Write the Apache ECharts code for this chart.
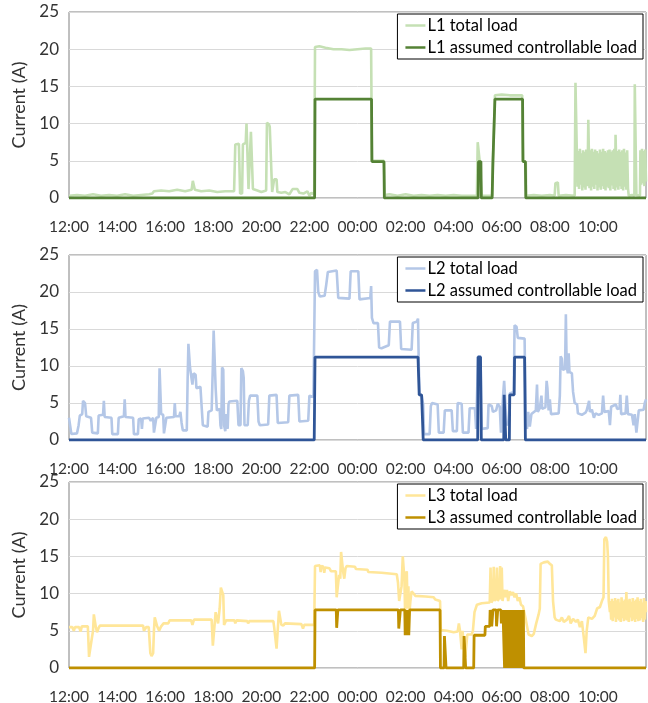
<!DOCTYPE html>
<html>
<head>
<meta charset="utf-8">
<script src="https://cdn.jsdelivr.net/npm/echarts@6/dist/echarts.min.js"></script>
<style>
  html, body { margin: 0; padding: 0; background: #fff; }
  #chart { width: 648px; height: 703px; }
</style>
</head>
<body>
<div id="chart"></div>
<script>
// time axis: minutes after 12:00, one label every 2 hours
const timeLabels = ['12:00', '14:00', '16:00', '18:00', '20:00', '22:00',
  '00:00', '02:00', '04:00', '06:00', '08:00', '10:00'];

const seriesNames = [
  ['L1 total load', 'L1 assumed controllable load'],
  ['L2 total load', 'L2 assumed controllable load'],
  ['L3 total load', 'L3 assumed controllable load']
];

// [minute, current A]
const l1Total = [[0,0.3],[20,0.4],[40,0.3],[60,0.5],[80,0.3],[100,0.4],[120,0.3],[140,0.5],[160,0.3],[180,0.4],[200,0.5],[208,0.6],[212,0.9],[230,1.0],[250,0.9],[270,1.1],[290,0.9],[306,1.1],[309,2.3],[312,2.2],[314,1.1],[330,0.9],[350,1.0],[370,0.8],[390,0.9],[412,0.9],[415,7.2],[424,7.3],[427,0.6],[432,0.6],[434,7.2],[441,7.4],[443,10.0],[446,10.0],[448,1.2],[452,1.0],[454,8.9],[457,8.9],[459,1.2],[470,1.0],[480,0.8],[492,1.0],[494,10.1],[499,9.9],[501,9.6],[505,9.6],[507,0.8],[511,0.8],[512,2.5],[518,2.5],[520,0.8],[530,0.7],[540,0.8],[550,0.5],[558,1.2],[570,1.2],[575,0.7],[585,0.6],[595,0.9],[600,0.3],[605,0.7],[612,0.5],[614,20.3],[625,20.4],[640,20.2],[660,20.0],[680,20.0],[700,19.9],[720,20.0],[740,20.1],[754,20.1],[756,5.0],[786,5.0],[788,0.4],[800,0.5],[820,0.3],[840,0.5],[860,0.3],[880,0.4],[900,0.3],[920,0.4],[940,0.3],[960,0.4],[980,0.3],[1000,0.3],[1018,0.3],[1020,7.5],[1023,7.3],[1025,4.9],[1028,4.9],[1030,0.3],[1056,0.3],[1058,4.9],[1063,13.8],[1080,13.9],[1100,13.8],[1120,13.8],[1131,13.8],[1133,4.9],[1140,4.9],[1141,0.3],[1160,0.4],[1180,0.3],[1200,0.4],[1212,0.3],[1214,2.0],[1220,2.1],[1222,0.3],[1240,0.4],[1262,0.3],[1264,15.5],[1267,15.5],[1269,1.5],
  [1271,6.3],[1273,1.2],[1275,6.6],[1277,1.8],[1279,6.0],[1281,1.0],[1283,6.4],[1285,1.4],[1287,6.2],[1289,1.1],[1291,6.5],[1293,1.6],[1295,6.1],[1296,10.5],[1298,10.3],[1299,1.3],[1301,6.4],[1303,1.0],[1305,6.6],[1307,1.5],[1309,6.2],[1311,1.2],[1313,6.5],[1315,1.8],[1317,6.3],[1319,1.0],[1321,6.0],[1323,1.4],[1325,6.5],[1327,1.1],[1329,6.2],[1331,1.6],[1333,6.6],[1335,1.2],[1337,6.3],[1339,1.0],[1341,6.1],[1343,1.5],[1345,6.4],[1347,1.3],[1349,6.5],[1351,1.0],[1353,6.2],[1355,1.7],[1357,6.4],[1359,1.2],[1361,6.6],[1363,1.0],[1364,8.5],[1366,8.3],[1367,1.4],[1369,6.3],[1371,1.1],[1373,6.5],[1375,1.6],[1377,6.2],[1379,1.2],[1381,6.4],[1383,1.0],[1385,6.6],[1387,1.5],[1389,6.1],[1391,1.1],[1393,6.4],[1395,1.3],[1397,0.3],[1405,0.4],[1411,0.3],[1412,15.3],[1415,15.3],[1416,0.4],[1425,0.3],[1426,6.4],[1428,1.8],[1430,6.6],[1432,2.0],[1434,6.3],[1436,1.6],[1438,6.5],[1440,2.2]];

const l1Control = [[0,0],[613,0],[614,13.3],[755,13.3],[756,4.9],[786,4.9],[787,0],[1021,0],[1022,4.9],[1028,4.9],[1029,0],[1056,0],[1058,4.9],[1063,13.3],[1132,13.3],[1133,4.9],[1139,4.9],[1140,0],[1440,0]];

const l2Total = [[0,3.0],[4,3.0],[6,0.8],[20,0.9],[24,2.0],[27,3.3],[33,3.5],[35,5.3],[40,5.0],[43,3.2],[55,3.0],[58,1.0],[72,0.9],[74,3.3],[85,3.4],[87,5.3],[89,3.1],[106,3.0],[108,0.8],[122,0.8],[124,3.0],[137,3.2],[139,5.5],[141,3.1],[160,3.0],[162,0.8],[172,0.8],[174,2.8],[180,2.9],[182,1.5],[184,2.9],[200,3.0],[204,2.6],[210,3.0],[212,1.0],[216,1.2],[218,3.0],[224,3.1],[226,9.7],[228,9.6],[230,3.5],[235,3.4],[237,0.9],[241,1.0],[243,3.0],[262,3.1],[264,5.0],[266,3.2],[275,3.2],[278,3.8],[281,2.3],[284,1.3],[294,1.3],[296,8.0],[298,13.0],[300,12.8],[302,9.8],[306,9.6],[308,7.5],[311,9.0],[316,8.8],[318,7.0],[328,7.2],[331,4.5],[334,2.0],[346,1.8],[348,3.8],[356,4.0],[359,10.0],[361,14.8],[364,14.9],[366,7.0],[369,4.0],[376,4.2],[378,2.0],[380,1.5],[382,9.8],[385,9.5],[387,2.0],[390,1.2],[393,3.5],[396,1.5],[398,4.8],[400,5.2],[420,5.3],[423,2.0],[428,2.0],[430,9.7],[434,9.3],[436,8.4],[438,2.0],[446,2.0],[449,5.3],[452,6.0],[470,6.0],[473,2.5],
  [476,2.0],[497,2.1],[500,6.0],[518,6.1],[521,2.3],[547,2.4],[550,6.0],[572,6.1],[575,2.5],[597,2.6],[600,6.0],[610,5.8],[612,6.0],[614,22.8],[619,23.0],[622,20.0],[626,19.4],[638,19.5],[642,21.0],[646,22.7],[668,22.9],[672,19.2],[700,19.1],[703,22.8],[722,22.8],[725,19.0],[752,19.2],[754,20.8],[756,16.5],[760,15.8],[771,15.8],[774,12.5],[780,12.4],[798,12.8],[801,16.0],[826,16.0],[829,12.3],[855,12.2],[858,15.8],[868,16.0],[871,16.4],[873,10.0],[875,6.1],[880,6.0],[884,4.8],[886,0.8],[900,0.8],
  [903,4.6],[906,5.0],[920,4.8],[923,1.0],[935,1.0],[938,4.0],[955,4.0],[958,1.2],[968,1.2],[970,5.0],[980,4.9],[983,1.0],[997,1.0],[1000,4.3],[1013,4.3],[1016,1.5],[1019,1.5],[1021,11.3],[1027,11.3],[1030,1.5],[1033,1.5],[1045,1.6],[1047,4.8],[1055,4.6],[1058,3.8],[1066,4.0],[1070,4.9],[1075,4.5],[1078,1.0],[1082,1.2],[1084,6.5],[1086,8.0],[1090,7.8],[1092,2.0],[1098,2.5],[1100,6.3],[1110,6.5],[1112,15.5],[1117,15.3],[1120,13.8],[1137,13.7],[1140,2.0],
  [1143,1.5],[1146,3.8],[1150,1.8],[1154,3.5],[1157,3.6],[1165,4.0],[1168,7.5],[1170,3.8],[1175,4.3],[1179,6.0],[1181,4.2],[1189,4.4],[1192,8.0],[1194,7.0],[1197,4.0],[1200,5.5],[1203,3.5],[1222,3.6],[1225,6.0],[1227,11.3],[1230,11.0],[1232,9.5],[1238,9.6],[1240,17.0],[1242,10.0],[1245,9.0],[1247,11.7],[1249,9.2],[1255,9.0],[1258,6.5],[1262,5.0],[1268,4.8],[1270,3.6],[1280,3.4],[1289,3.7],[1292,4.0],[1298,5.3],[1300,3.8],[1305,4.1],[1310,3.0],[1314,3.6],[1322,3.4],[1330,3.6],[1333,6.0],[1336,3.8],[1347,3.9],[1350,2.0],[1353,4.5],[1365,4.8],[1368,4.2],[1374,4.3],[1376,6.1],[1378,3.5],[1389,3.6],[1392,6.0],[1395,3.5],[1405,3.4],[1409,2.0],[1412,3.5],[1416,1.0],[1419,1.0],[1422,4.0],[1434,4.1],[1437,5.0],[1440,5.5]];

const l2Control = [[0,0],[612,0],[614,11.2],[871,11.2],[874,6.1],[880,6.1],[884,0],[1020,0],[1021,11.2],[1027,11.2],[1029,0],[1085,0],[1086,6.1],[1089,6.1],[1090,0],[1099,0],[1100,6.1],[1111,6.1],[1112,11.2],[1137,11.2],[1139,0],[1440,0]];

const l3Total = [[0,5.5],[8,5.5],[12,5.0],[15,5.5],[25,5.5],[29,4.9],[32,5.6],[47,5.6],[50,1.5],[54,1.4],[57,4.0],[60,5.0],[62,7.2],[64,7.0],[67,5.5],[70,4.8],[74,5.4],[77,5.7],[185,5.7],[187,5.0],[190,5.0],[193,5.5],[199,5.5],[203,2.0],[206,1.6],[210,2.0],[212,5.0],[214,6.8],[217,6.6],[220,5.6],[225,5.0],[230,5.6],[236,6.0],[248,6.0],[251,6.4],[305,6.4],[308,5.8],[312,6.5],[356,6.5],[359,3.0],[363,3.2],[366,7.5],[369,7.6],[372,6.0],[376,8.0],[379,10.8],[382,10.6],[385,9.8],[387,5.8],[392,6.4],[413,6.4],[415,6.0],[418,6.4],[445,6.3],[447,6.0],[450,6.3],[470,6.3],
  [510,6.3],[512,5.5],[516,5.4],[518,2.6],[521,2.5],[524,7.7],[527,7.5],[530,5.8],[535,5.7],[539,6.0],[543,5.8],[580,5.9],[584,5.3],[587,5.8],[612,5.8],[614,13.7],[626,13.8],[628,12.9],[630,13.7],[635,13.6],[637,12.8],[639,13.5],[650,13.4],[654,13.0],[666,13.0],[668,9.5],[671,9.4],[674,12.5],[677,12.0],[679,15.6],[682,15.4],[684,13.0],[687,12.0],[690,13.4],[693,13.7],[714,13.6],[716,13.3],[745,13.2],[747,12.9],[780,12.8],[782,12.6],[818,12.6],[821,11.5],[824,9.0],[827,9.2],[830,11.0],[833,15.0],[835,14.8],[837,12.0],[839,7.0],[841,12.5],[843,13.0],[845,8.0],[847,11.0],[849,7.0],[852,9.0],[855,10.3],[860,10.0],[864,9.7],[890,9.6],[910,9.5],[914,9.2],[926,9.0],[928,5.1],
  [943,5.0],[947,4.8],[960,4.8],[970,4.9],[973,6.0],[976,4.9],[980,2.5],[982,5.0],[986,4.8],[989,1.5],[992,1.5],[994,4.5],[1005,4.5],[1008,5.0],[1012,7.5],[1018,8.5],[1030,8.7],[1050,8.8],[1052,13.5],[1054,8.8],[1058,9.2],[1060,13.6],[1062,9.0],[1066,9.5],[1068,13.5],[1070,9.0],[1074,9.5],[1076,13.7],[1078,9.2],[1080,13.5],[1082,9.0],[1086,10.5],[1090,9.5],[1093,10.5],[1096,9.0],[1100,10.3],[1104,9.8],[1108,10.2],[1112,9.5],[1116,10.0],[1120,9.0],[1124,9.5],[1128,8.5],[1133,8.3],[1140,6.5],[1147,4.5],[1155,4.3],[1160,4.6],[1166,6.0],[1172,7.2],[1175,8.0],[1177,14.0],[1185,14.2],[1195,14.3],[1200,14.0],[1205,13.8],[1208,9.0],[1212,6.8],[1215,6.5],[1225,6.3],[1230,6.8],[1235,6.2],[1243,6.5],[1248,7.0],[1252,6.0],[1258,6.6],[1265,6.2],[1270,6.5],[1275,5.5],[1280,6.3],[1285,4.0],[1289,2.0],[1292,5.0],[1296,6.8],[1305,6.6],[1312,7.0],[1318,8.0],[1325,8.2],[1330,9.0],[1334,9.5],[1336,17.3],[1340,17.6],[1343,17.0],[1345,15.0],[1347,9.0],[1350,7.5],
  [1351,9.0],[1353,6.5],[1355,9.3],[1357,6.3],[1359,9.0],[1361,6.8],[1363,9.4],[1365,6.2],[1367,9.1],[1369,6.6],[1371,9.3],[1373,6.4],[1375,8.8],[1377,6.2],[1379,9.5],[1381,6.7],[1383,9.0],[1385,6.3],[1387,9.2],[1389,6.5],[1391,10.2],[1393,6.4],[1395,9.1],[1397,6.2],[1399,9.3],[1401,6.8],[1403,8.9],[1405,6.3],[1407,9.4],[1409,6.5],[1411,9.0],[1413,6.2],[1415,9.2],[1417,6.6],[1419,9.5],[1421,6.3],[1423,9.0],[1425,6.4],[1427,9.3],[1429,6.7],[1431,8.8],[1433,6.2],[1435,9.4],[1437,6.5],[1439,9.0],[1440,7.5]];

const l3Control = [[0,0],[613,0],[614,7.8],[667,7.8],[668,5.4],[670,5.4],[671,7.8],[822,7.8],[823,5.3],[826,5.3],[827,7.8],[838,7.8],[839,4.4],[841,7.8],[843,4.4],[845,4.4],[846,7.8],[848,4.4],[850,7.8],[926,7.8],[927,0],[936,0],[937,4.3],[940,4.3],[941,0],[985,0],[986,4.3],[989,4.3],[990,0],[1010,0],[1011,4.4],[1038,4.4],[1039,5.6],[1050,5.6],[1051,7.8],[1054,7.8],[1055,5.6],[1057,5.6],[1058,7.8],[1066,7.8],[1067,5.6],[1069,5.6],[1070,7.8],[1078,7.8],[1079,6.0],[1082,6.0],[1083,7.8],[1086,7.8],[1087,0],
  [1088,7.8],[1089,0],[1090,7.8],[1091,0],[1092,7.8],[1093,0],[1094,7.8],[1095,0],[1096,7.8],[1097,0],[1098,7.8],[1099,0],[1100,7.8],[1101,0],[1102,7.8],[1103,0],[1104,7.8],[1105,0],[1106,7.8],[1107,0],[1108,7.8],[1109,0],[1110,7.8],[1111,0],[1112,7.8],[1113,0],[1114,7.8],[1115,0],[1116,7.8],[1117,0],[1118,7.8],[1119,0],[1120,7.8],[1121,0],[1122,7.8],[1123,0],[1124,7.8],[1125,0],[1126,7.8],[1127,0],[1128,7.8],[1129,0],[1130,7.8],[1131,0],[1132,7.8],[1133,0],[1134,7.8],[1135,0],[1136,0],[1440,0]];

const totals = [l1Total, l2Total, l3Total];
const controls = [l1Control, l2Control, l3Control];

(function () {
  'use strict';

  const lightColors = ['#c5e0b4', '#b4c7e7', '#ffe699'];
  const darkColors = ['#548235', '#2f5597', '#bf9000'];
  const gridTops = [12, 255, 482];
  const gridHeights = [186, 185, 186];
  const family = 'Lato, "Open Sans", sans-serif';
  const textColor = '#333333';

  // font size that makes a text as wide as it is in the picture
  const ctx = document.createElement('canvas').getContext('2d');
  const fitFont = (text, width) => {
    ctx.font = '100px Lato';
    return Math.round(100 * width / ctx.measureText(text).width * 2) / 2;
  };
  const legendSize = fitFont('L1 assumed controllable load', 212);
  const xLabelSize = fitFont('12:00', 40);
  const yLabelSize = fitFont('20', 20);
  const nameSize = fitFont('Current (A)', 88);

  const chart = echarts.init(document.getElementById('chart'), null, { renderer: 'canvas' });

  const grid = gridTops.map((top, i) => ({
    left: 69, right: 2, top, height: gridHeights[i],
    show: true, borderColor: '#808080', borderWidth: 1,
    containLabel: false, outerBoundsMode: 'none'
  }));

  const xAxis = gridTops.map((_, i) => ({
    type: 'value', gridIndex: i, min: 0, max: 1440, interval: 120,
    axisLine: { show: false }, axisTick: { show: false }, splitLine: { show: false },
    axisLabel: {
      color: textColor, fontFamily: family, fontSize: xLabelSize, margin: 21, showMaxLabel: false,
      formatter: v => timeLabels[Math.round(v / 120)] || ''
    }
  }));

  const yAxis = gridTops.map((_, i) => ({
    type: 'value', gridIndex: i, min: 0, max: 25, interval: 5,
    name: 'Current (A)', nameLocation: 'middle', nameRotate: 90, nameGap: 31,
    nameTextStyle: { color: textColor, fontFamily: family, fontSize: nameSize },
    axisLine: { show: false }, axisTick: { show: false },
    splitLine: { lineStyle: { color: '#d9d9d9', width: 1 } },
    axisLabel: { color: textColor, fontFamily: family, fontSize: yLabelSize, margin: 10 }
  }));

  const legend = gridTops.map((top, i) => ({
    data: seriesNames[i], orient: 'vertical', right: 5, top: top + 2,
    backgroundColor: '#fff', borderColor: '#000', borderWidth: 1,
    padding: [2, 6, 2, 8], itemGap: 3, itemWidth: 20, itemHeight: 2.5, icon: 'rect',
    textStyle: { color: '#000', fontFamily: family, fontSize: legendSize, lineHeight: 19, padding: [0, 0, 0, -3] }
  }));

  const series = [];
  gridTops.forEach((_, i) => {
    series.push({
      name: seriesNames[i][0], type: 'line', xAxisIndex: i, yAxisIndex: i,
      data: totals[i], symbol: 'none', showSymbol: false,
      itemStyle: { color: lightColors[i] },
      lineStyle: { color: lightColors[i], width: 2.6 }, z: 2
    });
    series.push({
      name: seriesNames[i][1], type: 'line', xAxisIndex: i, yAxisIndex: i,
      data: controls[i], symbol: 'none', showSymbol: false,
      itemStyle: { color: darkColors[i] },
      lineStyle: { color: darkColors[i], width: 2.8 }, z: 3
    });
  });

  chart.setOption({
    animation: false,
    grid, xAxis, yAxis, legend, series
  });
})();
</script>
</body>
</html>
